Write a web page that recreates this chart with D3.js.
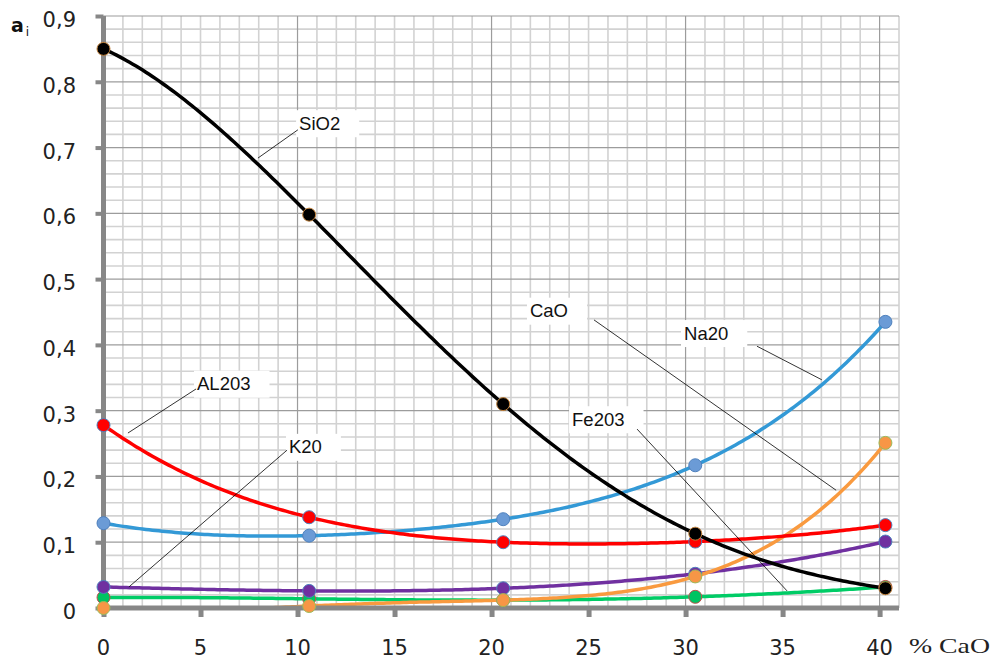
<!DOCTYPE html>
<html><head><meta charset="utf-8">
<script src="https://cdn.jsdelivr.net/npm/d3@7/dist/d3.min.js"></script>
<style>html,body{margin:0;padding:0;background:#fff;}svg{display:block;}</style>
</head><body>
<svg id="chart" width="1000" height="662"></svg>
<script>
// ---- data ----
const cao = [0, 10.6, 20.6, 30.5, 40.3];
const sio2 = [0.85, 0.598, 0.31, 0.113, 0.03];
const al2o3 = [0.278, 0.138, 0.100, 0.101, 0.126];
const na2o = [0.129, 0.110, 0.135, 0.217, 0.435];
const k2o = [0.032, 0.026, 0.030, 0.052, 0.101];
const caoSeries = [0, 0.003, 0.012, 0.048, 0.251];
const fe2o3 = [0.016, 0.014, 0.012, 0.017, 0.032];
const xTicks = [0, 5, 10, 15, 20, 25, 30, 35, 40];
const xTickLabels = ["0", "5", "10", "15", "20", "25", "30", "35", "40"];
const yTicks = [0, 0.1, 0.2, 0.3, 0.4, 0.5, 0.6, 0.7, 0.8, 0.9];
const yTickLabels = ["0", "0,1", "0,2", "0,3", "0,4", "0,5", "0,6", "0,7", "0,8", "0,9"];
const labelNames = ["SiO2", "AL203", "K20", "CaO", "Na20", "Fe203"];
// label text anchor (data units) and leader line start/end (data units)
const labelAnchorX = [10.08, 4.82, 9.56, 21.98, 29.92, 24.15];
const labelAnchorY = [0.737, 0.341, 0.245, 0.452, 0.418, 0.287];
const leaderFromX = [10.02, 4.77, 9.46, 25.28, 33.68, 27.5];
const leaderFromY = [0.727, 0.333, 0.240, 0.438, 0.398, 0.272];
const leaderToX = [7.96, 1.26, 1.31, 37.76, 37.02, 35.23];
const leaderToY = [0.684, 0.266, 0.032, 0.179, 0.347, 0.026];

const series = [
  {name: "Fe2O3", values: fe2o3, line: "#00cc66", fill: "#00c462", stroke: "#c0504d"},
  {name: "K2O", values: k2o, line: "#7030a0", fill: "#7030a0", stroke: "#4f81bd"},
  {name: "CaO", values: caoSeries, line: "#f99a3f", fill: "#f79646", stroke: "#9bbb59"},
  {name: "Na2O", values: na2o, line: "#3399d6", fill: "#6b9bd6", stroke: "#4f81bd"},
  {name: "Al2O3", values: al2o3, line: "#ff0000", fill: "#ff0000", stroke: "#4f81bd"},
  {name: "SiO2", values: sio2, line: "#000000", fill: "#000000", stroke: "#c0803a"}
];

// polynomial (order n-1) trendline curve through the given points, as a d3 curve factory
function polyTrendCurve(context) {
  let xs, ys;
  return {
    areaStart() {}, areaEnd() {},
    lineStart() { xs = []; ys = []; },
    point(px, py) { xs.push(+px); ys.push(+py); },
    lineEnd() {
      const n = xs.length;
      const c = ys.slice();
      for (let j = 1; j < n; j++)
        for (let i = n - 1; i >= j; i--) c[i] = (c[i] - c[i - 1]) / (xs[i] - xs[i - j]);
      const f = t => { let v = c[n - 1]; for (let i = n - 2; i >= 0; i--) v = v * (t - xs[i]) + c[i]; return v; };
      const steps = 240;
      context.moveTo(xs[0], ys[0]);
      for (let k = 1; k <= steps; k++) {
        const t = xs[0] + (xs[n - 1] - xs[0]) * k / steps;
        context.lineTo(t, f(t));
      }
    }
  };
}

const svg = d3.select("#chart");
const x = d3.scaleLinear().domain([0, 41]).range([103.5, 899]);
const y = d3.scaleLinear().domain([0, 0.9]).range([608, 16]);

svg.append("defs").append("clipPath").attr("id", "plotclip").append("rect")
  .attr("x", x(0)).attr("y", y(0.9)).attr("width", x(41) - x(0)).attr("height", y(0) - y(0.9));

// grid
const g = svg.append("g");
const vMinor = d3.range(0, 42, 1);
g.selectAll(".vmin").data(vMinor.filter(v => v % 10 !== 0)).enter().append("line")
  .attr("x1", d => x(d)).attr("x2", d => x(d)).attr("y1", y(0.9)).attr("y2", y(0))
  .attr("stroke", "#d2d2d2").attr("stroke-width", 1.6);
const hMinor = d3.range(0, 46, 1).map(i => i * 0.02).filter((d, i) => i % 5 !== 0);
g.selectAll(".hmin").data(hMinor).enter().append("line")
  .attr("x1", x(0)).attr("x2", x(41)).attr("y1", d => y(d)).attr("y2", d => y(d))
  .attr("stroke", "#d2d2d2").attr("stroke-width", 1.6);
g.selectAll(".vmaj").data([10, 20, 30, 40]).enter().append("line")
  .attr("x1", d => x(d)).attr("x2", d => x(d)).attr("y1", y(0.9)).attr("y2", y(0))
  .attr("stroke", "#9c9c9c").attr("stroke-width", 1.2);
g.selectAll(".hmaj").data(yTicks.slice(1)).enter().append("line")
  .attr("x1", x(0)).attr("x2", x(41)).attr("y1", d => y(d)).attr("y2", d => y(d))
  .attr("stroke", "#9c9c9c").attr("stroke-width", 1.2);

// labels with leaders (boxes under curves)
const lab = svg.append("g");
labelNames.forEach((name, i) => {
  const gg = lab.append("g");
  const t = gg.append("text").attr("x", x(labelAnchorX[i])).attr("y", y(labelAnchorY[i]) + 6.5)
    .attr("font-family", "Liberation Sans, Arial, sans-serif").attr("font-size", 18.5).attr("fill", "#111")
    .text(name);
  const bb = t.node().getBBox();
  gg.insert("rect", "text").attr("x", bb.x - 3).attr("y", y(labelAnchorY[i]) - 13)
    .attr("width", bb.width + 22).attr("height", 27).attr("fill", "#fff");
});

// trend lines
const line = d3.line().x((d, i) => x(cao[i])).y(d => y(d)).curve(polyTrendCurve);
svg.append("g").attr("clip-path", "url(#plotclip)")
  .selectAll(".series").data(series).enter().append("path")
  .attr("d", d => line(d.values)).attr("fill", "none")
  .attr("stroke", d => d.line).attr("stroke-width", 3.5).attr("stroke-linejoin", "round");

// leader lines
labelNames.forEach((name, i) => {
  lab.append("line").attr("x1", x(leaderFromX[i])).attr("y1", y(leaderFromY[i]))
    .attr("x2", x(leaderToX[i])).attr("y2", y(leaderToY[i]))
    .attr("stroke", "#000").attr("stroke-width", 0.8);
});
svg.node().appendChild(lab.node());

// axes
const axisColor = "#878787";
const yAxis = d3.axisLeft(y).tickValues(yTicks).tickSize(6).tickFormat("");
const yA = svg.append("g").attr("transform", `translate(${x(0)},0)`).call(yAxis);
yA.select(".domain").attr("stroke", axisColor).attr("stroke-width", 5).attr("d", `M0,${y(0.9)}V${y(0)}`);
yA.selectAll(".tick line").attr("stroke", axisColor).attr("stroke-width", 4).attr("x2", -8);
const xAxis = d3.axisBottom(x).tickValues(xTicks).tickSize(8).tickFormat("");
const xA = svg.append("g").attr("transform", `translate(0,${y(0)})`).call(xAxis);
xA.select(".domain").attr("stroke", axisColor).attr("stroke-width", 5).attr("d", `M${x(0) - 2.5},0H${x(41)}`);
xA.selectAll(".tick line").attr("stroke", axisColor).attr("stroke-width", 5).attr("y2", 9);

// tick labels
svg.selectAll(".ylab").data(yTicks).enter().append("text")
  .attr("x", 76).attr("y", d => y(d) + 11).attr("text-anchor", "end")
  .attr("font-family", "DejaVu Sans, Verdana, sans-serif").attr("font-size", 21).attr("fill", "#222")
  .text((d, i) => yTickLabels[i]);
svg.selectAll(".xlab").data(xTicks).enter().append("text")
  .attr("x", d => x(d)).attr("y", 655).attr("text-anchor", "middle")
  .attr("font-family", "DejaVu Sans, Verdana, sans-serif").attr("font-size", 21).attr("fill", "#222")
  .text((d, i) => xTickLabels[i]);

// axis titles
const at = svg.append("text").attr("x", 11).attr("y", 32)
  .attr("font-family", "DejaVu Sans, Verdana, sans-serif").attr("font-weight", "bold").attr("font-size", 19).attr("fill", "#111");
at.append("tspan").text("a");
at.append("tspan").attr("font-size", 12).attr("font-weight", "normal").attr("dy", 4).attr("dx", 2).text("i");
svg.append("text").attr("x", 909).attr("y", 653)
  .attr("font-family", "Liberation Serif, Times New Roman, serif").attr("font-size", 22).attr("fill", "#222")
  .attr("textLength", 81).attr("lengthAdjust", "spacingAndGlyphs").text("% CaO");

// markers
series.forEach(s => {
  svg.append("g").selectAll("circle").data(s.values).enter().append("circle")
    .attr("cx", (d, i) => x(cao[i])).attr("cy", d => y(d)).attr("r", 6.5)
    .attr("fill", s.fill).attr("stroke", s.stroke).attr("stroke-width", 1);
});
</script>
</body></html>
